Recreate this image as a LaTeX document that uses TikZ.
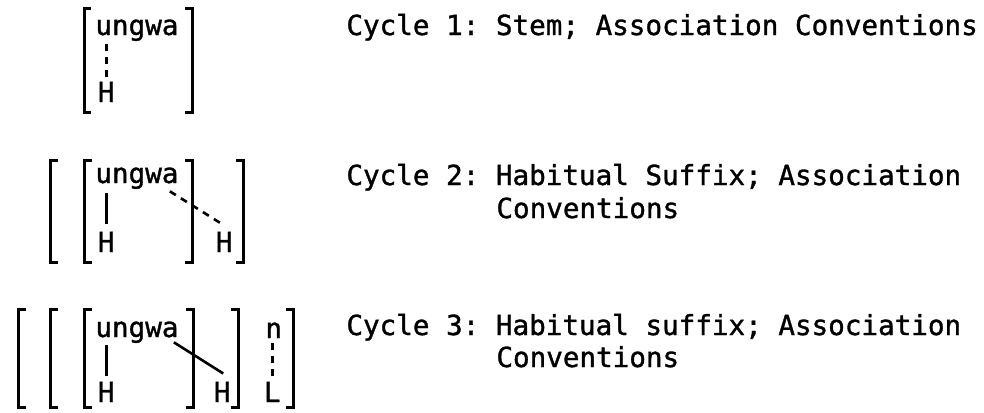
\documentclass[tikz,border=0pt]{standalone}
\usepackage{fontspec}
\setmonofont[FakeBold=1.2]{DejaVu Sans Mono}
\usepackage{tikz}
\usetikzlibrary{calc}
\tikzset{
  seg/.style={inner sep=0pt, anchor=base west},
  brk/.style={line width=1.5pt},
  tie/.style={line width=1.3pt},
  loose/.style={tie, dash pattern=on 3.5pt off 3pt},
}

\begin{document}
\begin{tikzpicture}[x=0.5pt, y=-0.5pt, font=\ttfamily\fontsize{13.8}{16.5}\selectfont]
  \useasboundingbox (0,0) rectangle (984,412);
  % cycle 1
  \draw[brk] (91,8) -| (84,112) -- (91,112);
  \draw[brk] (185,8) -| (192,112) -- (185,112);
  \node[seg] (w1) at (95,35) {ungwa};
  \node[seg] (h1) at (97.5,102) {H};
  \draw[loose, shorten <=2pt, shorten >=1pt] (h1.north) -- (h1.north |- w1.south);
  \node[seg] (c1) at (346,35) {Cycle 1: Stem; Association Conventions};
  % cycle 2
  \foreach \x in {50,84} \draw[brk] (\x+8,160) -| (\x,262) -- (\x+8,262);
  \foreach \x in {192,243} \draw[brk] (\x-7,160) -| (\x,262) -- (\x-7,262);
  \node[seg] (w2) at (95,183) {ungwa};
  \node[seg] (h2a) at (97.5,252) {H};
  \node[seg] (h2b) at (215.5,252) {H};
  \draw[tie, shorten <=3.5pt, shorten >=2pt] (h2a.north) -- (h2a.north |- w2.south);
  \draw[loose] ($(w2.south east)+(-9,2)$) -- ($(h2b.north)+(-1.5,-7)$);
  \node[seg] (c2) at (346,185) {Cycle 2: Habitual Suffix; Association};
  \node[seg] (c2x) at ($(c2.base west)+(150,33)$) {Conventions};
  % cycle 3
  \foreach \x in {18,50,84} \draw[brk] (\x+8,309) -| (\x,407) -- (\x+8,407);
  \foreach \x in {193,238,293} \draw[brk] (\x-7,309) -| (\x,407) -- (\x-7,407);
  \node[seg] (w3) at (95,337) {ungwa};
  \node[seg] (h3a) at (97.5,402) {H};
  \node[seg] (h3b) at (213.5,402) {H};
  \node[seg] (n3) at (265,338) {n};
  \node[seg] (l3) at (263.5,402) {L};
  \draw[tie, shorten <=2.5pt, shorten >=1pt] (h3a.north) -- (h3a.north |- w3.south);
  \draw[tie] ($(w3.south east)+(-5,-1)$) -- ($(h3b.north)+(1,-8)$);
  \draw[loose, shorten <=2.5pt, shorten >=2.5pt] (l3.north) -- (l3.north |- n3.south);
  \node[seg] (c3) at (346,335) {Cycle 3: Habitual suffix; Association};
  \node[seg] (c3x) at ($(c3.base west)+(150,32)$) {Conventions};
\end{tikzpicture}
\end{document}
